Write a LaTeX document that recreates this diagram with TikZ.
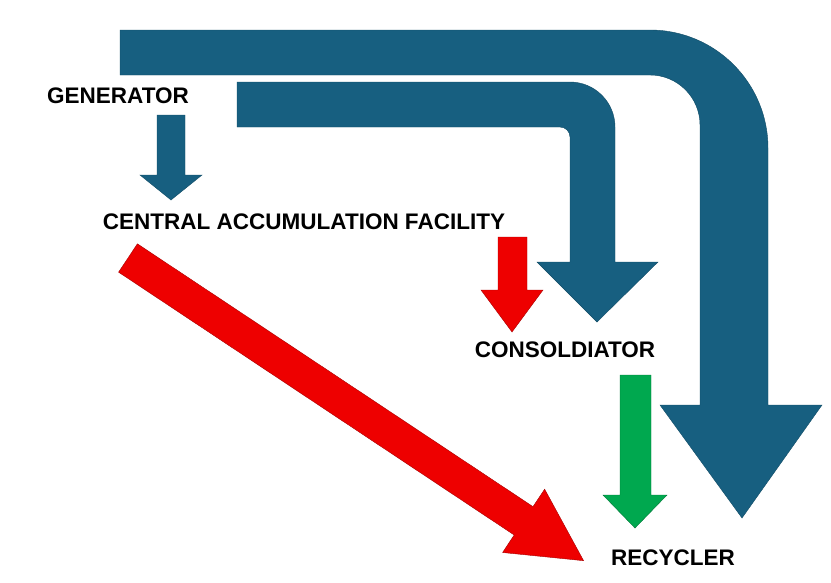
\documentclass[tikz,border=0pt]{standalone}
\usepackage{fontspec}
\setmainfont{Liberation Sans}
\usetikzlibrary{positioning,calc}
\definecolor{flowblue}{HTML}{175F80}
\definecolor{flowred}{HTML}{EE0000}
\definecolor{flowgreen}{HTML}{00A84F}
\tikzset{
  label/.style={font=\bfseries\fontsize{22.5}{26}\selectfont, inner sep=0pt},
  blueflow/.style={fill=flowblue, draw=flowblue!80!black, line width=0.4pt},
  redflow/.style={fill=flowred, draw=flowred!70!black, line width=0.4pt},
  greenflow/.style={fill=flowgreen, draw=flowgreen!70!black, line width=0.4pt}
}
\begin{document}
\begin{tikzpicture}[x=1pt, y=-1pt]
  \useasboundingbox (0,0) rectangle (831,582);
  % labels
  \node[label] (gen) at (118,96) {GENERATOR};
  \node[label] (caf) at (304,222) {CENTRAL ACCUMULATION FACILITY};
  \node[label] (con) at (565,350) {CONSOLDIATOR};
  \node[label] (rec) at (673,558) {RECYCLER};
  % big bend: generator to recycler
  \fill[blueflow] (120,30) -- (650,30) arc[start angle=-90, end angle=0, radius=118]
    -- (768,405) -- (822,405) -- (742,518) -- (660,405) -- (700,405) -- (700,125)
    arc[start angle=0, end angle=-90, radius=50] -- (120,75) -- cycle;
  % bend: generator to consolidator
  \fill[blueflow] (237,82) -- (570,82) arc[start angle=-90, end angle=0, radius=45]
    -- (615,262) -- (658,262) -- (597,322) -- (537,262) -- (570,262) -- (570,137)
    arc[start angle=0, end angle=-90, radius=10] -- (237,127) -- cycle;
  % straight arrows
  \fill[blueflow] (157,115) -- (185,115) -- (185,175) -- (202,175) -- (171,200)
    -- (140,175) -- (157,175) -- cycle;
  \fill[redflow] (498,237) -- (527,237) -- (527,290) -- (543,290) -- (512,332)
    -- (481,290) -- (498,290) -- cycle;
  \fill[greenflow] (620,375) -- (651,375) -- (651,495) -- (667,495) -- (635,528)
    -- (603,495) -- (620,495) -- cycle;
  \begin{scope}[shift={(128,258)}, rotate=-33.6]
    \fill[redflow] (0,-17) -- (475,-17) -- (475,-38) -- (547,0) -- (475,38)
      -- (475,17) -- (0,17) -- cycle;
  \end{scope}
\end{tikzpicture}
\end{document}
